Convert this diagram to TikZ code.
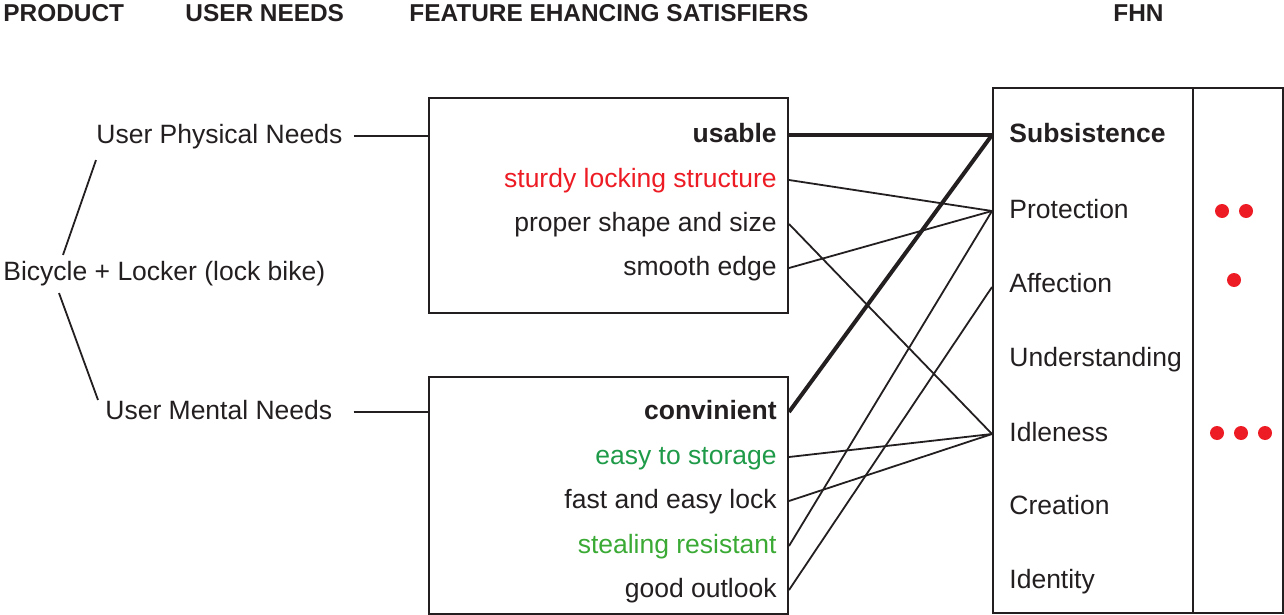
\documentclass[tikz,border=0pt]{standalone}
\usepackage{fontspec}
\setmainfont{Liberation Sans}
\usepackage{xcolor}
\definecolor{dotred}{HTML}{ED1C24}
\definecolor{darkgreen}{HTML}{1E9A48}
\definecolor{lightgreen}{HTML}{3AAA35}
\definecolor{inkline}{HTML}{231F20}
\usetikzlibrary{positioning, fit}

\begin{document}
\begin{tikzpicture}[
			x=0.5pt, y=-0.5pt,
			txt/.style={
				inner sep=0pt,
				yshift=-1pt,
				text height=0.716em,
				text depth=0pt,
				text=inkline,
				font=\fontsize{13.25}{16}\selectfont,
			},
			boldtxt/.style={txt, font=\fontsize{13.25}{16}\selectfont\bfseries},
			header/.style={
				inner sep=0pt,
				anchor=west,
				text height=0.716em,
				text depth=0pt,
				text=inkline,
				font=\fontsize{12.2}{14}\selectfont\bfseries,
			},
			feat/.style={anchor=east},
			need/.style={anchor=west},
			frame/.style={draw=inkline, line width=1pt, inner sep=0pt},
			link/.style={draw=inkline, line width=0.9pt},
			strong/.style={draw=inkline, line width=2pt},
			reddot/.style={circle, fill=dotred, inner sep=0pt, minimum size=7pt},
			]
			\useasboundingbox (0,0) rectangle (1284,615);
			
			% column titles
			\node[header] (hprod) at (3,14) {PRODUCT};
			\node[header] (hneeds) at (185,14) {USER NEEDS};
			\node[header] (hfeat) at (409,14) {FEATURE EHANCING SATISFIERS};
			\node[header] (hfhn) at (1113,14) {FHN};
			
			% product and user needs
			\node[txt, anchor=west] (bike) at (3,271) {Bicycle + Locker (lock bike)};
			\node[txt, anchor=west] (physical) at (96,134) {User Physical Needs};
			\node[txt, anchor=west] (mental) at (105,410) {User Mental Needs};
			
			% feature boxes
			\node[frame, fit={(429,98) (788,313)}] (upbox) {};
			\node[frame, fit={(429,377) (788,614)}] (lowbox) {};
			
			\node[boldtxt, feat] (usable) at (777,133) {usable};
			\node[txt, feat, text=dotred] (sturdy) at (777,178) {sturdy locking structure};
			\node[txt, feat] (shape) at (777,222) {proper shape and size};
			\node[txt, feat] (edge) at (777,266) {smooth edge};
			
			\node[boldtxt, feat] (conv) at (777,410) {convinient};
			\node[txt, feat, text=darkgreen] (storage) at (777,455) {easy to storage};
			\node[txt, feat] (fastlock) at (777,499) {fast and easy lock};
			\node[txt, feat, text=lightgreen] (steal) at (777,544) {stealing resistant};
			\node[txt, feat] (outlook) at (777,588) {good outlook};
			
			% fundamental human needs
			\node[frame, fit={(993,88) (1283,613)}] (fhnbox) {};
			\draw[frame] (1193,88) -- (1193,613);
			
			\node[boldtxt, need] (subs) at (1009,133) {Subsistence};
			\node[txt, need] (prot) at (1009,209) {Protection};
			\node[txt, need] (affec) at (1009,283) {Affection};
			\node[txt, need] (under) at (1009,357) {Understanding};
			\node[txt, need] (idle) at (1009,432) {Idleness};
			\node[txt, need] (creat) at (1009,505) {Creation};
			\node[txt, need] (ident) at (1009,579) {Identity};
			
			\node[reddot] (prota) at (1222,211) {};
			\node[reddot] (protb) at (1246,211) {};
			\node[reddot] (affeca) at (1234,280) {};
			\node[reddot] (idlea) at (1217,433) {};
			\node[reddot] (idleb) at (1241,433) {};
			\node[reddot] (idlec) at (1265,433) {};
			
			% tree
			\draw[link] ([yshift=-8.25pt]physical.south west) -- ([xshift=30pt, yshift=5.25pt]bike.north west);
			\draw[link] ([xshift=28pt, yshift=-6.25pt]bike.south west) -- ([xshift=-3.5pt, yshift=2.25pt]mental.north west);
			\draw[link] ([xshift=5.5pt]physical.east) -- (physical.east -| upbox.west);
			\draw[link] ([xshift=10.5pt]mental.east) -- (mental.east -| lowbox.west);
			
			% satisfier links
			\draw[strong] (usable.east -| upbox.east) -- (fhnbox.west |- subs.west);
			\draw[strong] (conv.east -| lowbox.east) -- (fhnbox.west |- subs.west);
			\draw[link] (sturdy.east -| upbox.east) -- (fhnbox.west |- prot.west);
			\draw[link] (edge.east -| upbox.east) -- (fhnbox.west |- prot.west);
			\draw[link] (shape.east -| upbox.east) -- (fhnbox.west |- idle.west);
			\draw[link] (storage.east -| lowbox.east) -- (fhnbox.west |- idle.west);
			\draw[link] (fastlock.east -| lowbox.east) -- (fhnbox.west |- idle.west);
			\draw[link] (steal.east -| lowbox.east) -- (fhnbox.west |- prot.west);
			\draw[link] (outlook.east -| lowbox.east) -- ([yshift=-1pt]fhnbox.west |- affec.west);
		\end{tikzpicture}
\end{document}
